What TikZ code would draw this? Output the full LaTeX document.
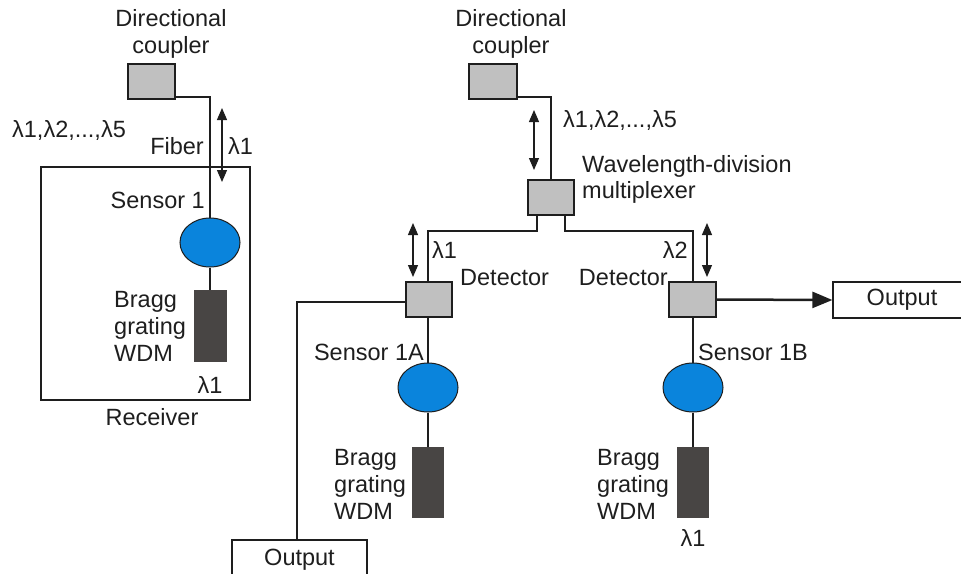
\documentclass[tikz,border=0pt]{standalone}
\usepackage{fontspec}
\setmainfont{Liberation Sans}
\usetikzlibrary{arrows.meta,shapes.geometric}
\definecolor{boxgray}{HTML}{C0C0C0}
\definecolor{sensblue}{HTML}{0A84DC}
\definecolor{braggdark}{HTML}{484544}
\definecolor{ink}{HTML}{1E1E1E}
\begin{document}
\begin{tikzpicture}[x=1pt,y=-1pt,
  every node/.style={text=ink},
  lbl/.style={font=\fontsize{23.5}{27}\selectfont, inner sep=0pt, align=left},
  cpl/.style={draw=ink, fill=boxgray, line width=1.2pt, inner sep=0pt, minimum width=47pt, minimum height=35pt},
  sens/.style={draw=ink, fill=sensblue, ellipse, line width=1pt, inner sep=0pt, minimum width=60pt, minimum height=49pt},
  bragg/.style={fill=braggdark, draw=braggdark, inner sep=0pt, minimum width=32pt, minimum height=71pt},
  outbox/.style={draw=ink, fill=white, line width=1.2pt, inner sep=0pt},
  fib/.style={draw=ink, line width=2pt},
  dbl/.style={draw=ink, line width=1.2pt, {Triangle[length=12pt,width=10pt]}-{Triangle[length=12pt,width=10pt]}}
]
\useasboundingbox (0,0) rectangle (961,573);

% ---------------- left system ----------------
\node[draw=ink, line width=1.2pt, minimum width=209pt, minimum height=233pt, inner sep=0pt] (rcv) at (145.5,283.5) {};
\node[cpl] (dc1) at (151.5,81.5) {};
\node[sens] (s1) at (210,242.5) {};
\node[bragg] (b1) at (210,325.5) {};
\draw[fib] ([yshift=3pt]dc1.south east) -| (s1.north);
\draw[fib] (s1.south) -- (b1.north);
\coordinate (a1t) at (222,108);
\coordinate (a1b) at (222,182);
\draw[dbl] (a1t) -- (a1b);

\node[lbl, align=center] (tdc1) at (171,34) {Directional\\coupler};
\node[lbl] (tlam1) at (69,130) {λ1,λ2,...,λ5};
\node[lbl, anchor=east] (tfib) at (204,146) {Fiber};
\node[lbl, anchor=west] (tl1) at (228,146) {λ1};
\node[lbl, anchor=east] (ts1) at (205,200) {Sensor 1};
\node[lbl, anchor=west] (tb1) at (114,326) {Bragg\\grating\\WDM};
\node[lbl] (tl1b) at (210,385) {λ1};
\node[lbl] (trcv) at (152,417) {Receiver};

% ---------------- right system ----------------
\node[cpl, minimum width=48pt] (dc2) at (493,81.5) {};
\node[cpl, minimum width=46pt] (wdm) at (551,197.5) {};
\node[cpl, minimum width=46pt] (det1) at (429,299.5) {};
\node[cpl] (det2) at (692.5,299.5) {};
\node[sens] (s1a) at (428,387.5) {};
\node[sens] (s1b) at (693,387.5) {};
\node[bragg, minimum width=31pt, minimum height=70pt] (b1a) at (428,482) {};
\node[bragg, minimum width=31pt, minimum height=70pt] (b1b) at (693,482) {};
\node[outbox, minimum width=135pt, minimum height=40pt] (out1) at (299.5,560) {};
\node[outbox, minimum width=138pt, minimum height=36pt] (out2) at (902,300) {};

\draw[fib] ([yshift=3pt]dc2.south east) -| (wdm.north);
\draw[fib] ([xshift=10pt]wdm.south west) -- ++(0,15) -| (s1a.north |- det1.north);
\draw[fib] ([xshift=-10pt]wdm.south east) -- ++(0,15) -| (s1b.north |- det2.north);
\draw[fib] (s1a.north |- det1.south) -- (s1a.north);
\draw[fib] (s1a.south) -- (b1a.north);
\draw[fib] (s1b.north |- det2.south) -- (s1b.north);
\draw[fib] (s1b.south) -- (b1b.north);
\draw[fib] ([yshift=-2.5pt]det1.west) -| ([xshift=-2.5pt]out1.north);
\draw[draw=ink, line width=2.5pt, -{Triangle[length=20pt,width=16pt]}] (det2.east) -- (out2.west);

\coordinate (a2t) at (534,110);
\coordinate (a2b) at (534,170);
\draw[dbl] (a2t) -- (a2b);
\coordinate (a3t) at (413,223);
\coordinate (a3b) at (413,277);
\draw[dbl] (a3t) -- (a3b);
\coordinate (a4t) at (707,223);
\coordinate (a4b) at (707,277);
\draw[dbl] (a4t) -- (a4b);

\node[lbl, align=center] (tdc2) at (511,34) {Directional\\coupler};
\node[lbl, anchor=west] (tlam2) at (563,120) {λ1,λ2,...,λ5};
\node[lbl, anchor=west, font=\fontsize{23.5}{26}\selectfont] (twdm) at (582,179) {Wavelength-division\\multiplexer};
\node[lbl, anchor=west] (tl1r) at (432,250) {λ1};
\node[lbl, anchor=west] (tdet1) at (460,278) {Detector};
\node[lbl, anchor=east] (tl2r) at (688,250) {λ2};
\node[lbl, anchor=east] (tdet2) at (668,278) {Detector};
\node[lbl, anchor=east] (ts1a) at (424,352) {Sensor 1A};
\node[lbl, anchor=west] (ts1b) at (698,352) {Sensor 1B};
\node[lbl, anchor=west] (tb1a) at (334,484) {Bragg\\grating\\WDM};
\node[lbl, anchor=west] (tb1b) at (597,484) {Bragg\\grating\\WDM};
\node[lbl] (tl1c) at (693,538) {λ1};
\node[lbl] (to1) at (out1.center) {Output};
\node[lbl] (to2) at (out2.center) {Output};
\end{tikzpicture}
\end{document}
